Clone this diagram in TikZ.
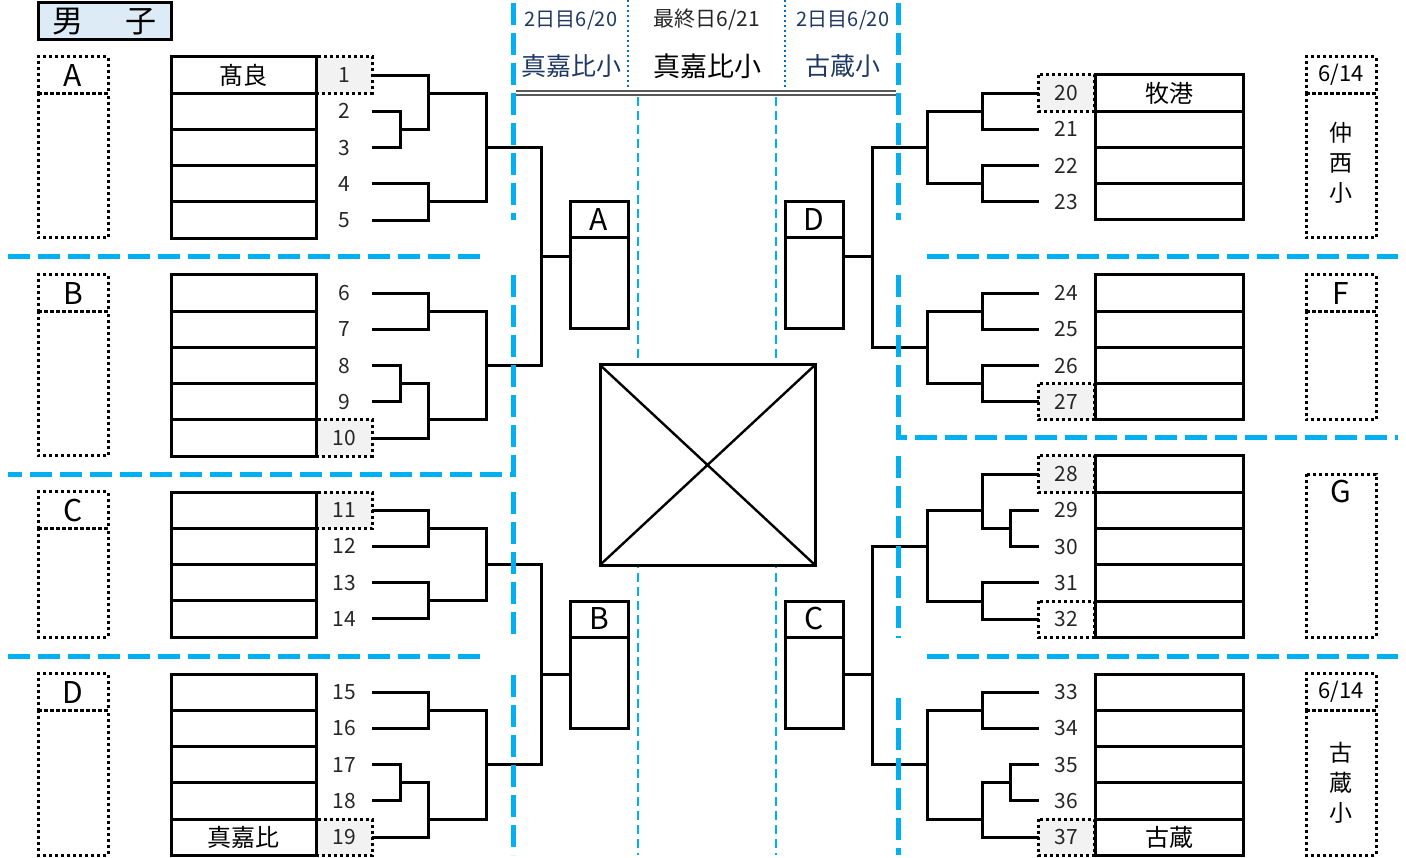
\documentclass[tikz,border=0pt]{standalone}
\usepackage{fontspec}
\setmainfont{Noto Sans CJK JP}
\usetikzlibrary{backgrounds}

\definecolor{cutblue}{HTML}{00B0F0}
\definecolor{daynavy}{HTML}{1F3864}
\definecolor{dotnavy}{HTML}{0070C0}
\definecolor{seedgray}{HTML}{F2F2F2}
\definecolor{titlebg}{HTML}{DDEBF7}
\definecolor{numgray}{HTML}{262626}
\definecolor{rulegray}{HTML}{595959}

\tikzset{
  bline/.style={line width=3pt},
  dotbox/.style={line width=3pt, dash pattern=on 3pt off 3pt},
  cutline/.style={cutblue, line width=5pt, dash pattern=on 22pt off 8pt},
  dayline/.style={cutblue, line width=2pt, dash pattern=on 9pt off 5pt},
  venueline/.style={dotnavy, line width=2.5pt, dash pattern=on 2.5pt off 2.5pt},
  num/.style={minimum width=56pt, minimum height=36.25pt, inner sep=0pt, outer sep=0pt,
    text=numgray, font=\fontsize{21}{21}\selectfont},
  team/.style={inner sep=0pt, font=\fontsize{24}{24}\selectfont},
  grp/.style={draw, dotbox, minimum width=70pt, minimum height=36.25pt, inner sep=0pt,
    outer sep=0pt, font=\fontsize{30}{30}\selectfont},
  vtext/.style={align=center, inner sep=0pt, font=\fontsize{23}{30}\selectfont},
  sbox/.style={draw, bline, minimum width=58pt, minimum height=127pt, inner sep=0pt, outer sep=0pt},
  sletter/.style={inner sep=0pt, font=\fontsize{30}{30}\selectfont},
  dayhd/.style={inner sep=0pt, text=daynavy, font=\fontsize{20}{20}\selectfont},
  venuehd/.style={inner sep=0pt, text=daynavy, font=\fontsize{25}{25}\selectfont}
}

\begin{document}
\begin{tikzpicture}[x=1pt, y=-1pt]
\useasboundingbox (0,0) rectangle (1406,858);

% title
\node[draw, bline, fill=titlebg, minimum width=133pt, minimum height=37pt, inner sep=0pt,
  font=\fontsize{31}{31}\selectfont] (title) at (104.5,21.5) {男\hspace{42pt}子};

% header of the finals
\node[dayhd] (day1) at (571,20) {2日目6/20};
\node[dayhd, text=numgray, font=\fontsize{21}{21}\selectfont] (day2) at (707,20) {最終日6/21};
\node[dayhd] (day3) at (843,20) {2日目6/20};
\node[venuehd] (ven1) at (571,66) {真嘉比小};
\node[venuehd, text=black, font=\fontsize{27}{27}\selectfont] (ven2) at (707,66) {真嘉比小};
\node[venuehd] (ven3) at (843,66) {古蔵小};
\draw[venueline] (628,0) -- (628,88);
\draw[venueline] (785,0) -- (785,88);
\draw[rulegray, line width=2pt] (516,91) -- (896,91) (516,95) -- (896,95);
\draw[dayline] (638,97) -- (638,855);
\draw[dayline] (776,97) -- (776,855);

% left tables and seeds
\foreach \t/\k/\f in {57/5/1,275/5/6,492/4/11,674/5/15}{
  \foreach \i in {1,...,\k}{
    \pgfmathtruncatemacro{\n}{\f+\i-1}
    \draw[bline] (171,{\t+(\i-1)*36.25}) rectangle (316,{\t+\i*36.25});
    \node[num] (n\n) at (344,{\t+(\i-0.5)*36.25}) {\n};
  }
}
% right tables and seeds
\foreach \t/\k/\f in {75/4/20,275/4/24,456/5/28,674/5/33}{
  \foreach \i in {1,...,\k}{
    \pgfmathtruncatemacro{\n}{\f+\i-1}
    \draw[bline] (1095,{\t+(\i-1)*36.25}) rectangle (1243,{\t+\i*36.25});
    \node[num] (n\n) at (1066.5,{\t+(\i-0.5)*36.25}) {\n};
  }
}
\begin{scope}[on background layer]
  \foreach \s in {1,10,11,19,20,27,28,37}
    \fill[seedgray] (n\s.north west) rectangle (n\s.south east);
\end{scope}
\foreach \s in {1,10,11,19,20,27,28,32,37}
  \draw[dotbox] (n\s.north west) rectangle (n\s.south east);

% teams
\node[team] (tm1) at (243.5,75.1) {髙良};
\node[team] (tm19) at (243.5,837.1) {真嘉比};
\node[team] (tm20) at (1169,93.1) {牧港};
\node[team] (tm37) at (1169,837.1) {古蔵};

% block labels
\foreach \t/\b/\l in {57/238/A,275/456/B,492/637/C,674/855/D}{
  \node[grp] (g\l) at (73,{\t+18.1}) {\l};
  \draw[dotbox] (g\l.south west) rectangle (108,\b);
}
\node[grp, font=\fontsize{22}{22}\selectfont] (gE) at (1341,75.1) {6/14};
\draw[dotbox] (gE.south west) rectangle (1376,238);
\node[vtext] (siteE) at (1341,163) {仲\\西\\小};
\node[grp] (gF) at (1341,293.1) {F};
\draw[dotbox] (gF.south west) rectangle (1376,420);
\draw[dotbox] (1306,474) rectangle (1376,637);
\node[sletter] (gG) at (1341,492) {G};
\node[grp, font=\fontsize{22}{22}\selectfont] (gH) at (1341,692.1) {6/14};
\draw[dotbox] (gH.south west) rectangle (1376,855);
\node[vtext] (siteH) at (1341,783) {古\\蔵\\小};

% junctions
\coordinate (a23) at (400,129.5);   \coordinate (a123) at (428,93.25);
\coordinate (a45) at (428,202);     \coordinate (aout) at (486,147.6);
\coordinate (b67) at (428,311.25);  \coordinate (b89) at (400,383.75);
\coordinate (b810) at (428,420);    \coordinate (bout) at (486,365.6);
\coordinate (c1112) at (428,528.25); \coordinate (c1314) at (428,600.75);
\coordinate (cout) at (486,564.5);
\coordinate (d1516) at (428,710.25); \coordinate (d1718) at (400,782.75);
\coordinate (d1719) at (428,819);   \coordinate (dout) at (486,764.6);
\coordinate (oA) at (541,147.6); \coordinate (oB) at (541,365.6); \coordinate (qAB) at (541,257);
\coordinate (oC) at (541,564.5); \coordinate (oD) at (541,764.6); \coordinate (qCD) at (541,674);
\coordinate (e2021) at (982,111.25); \coordinate (e2223) at (982,183.75);
\coordinate (eout) at (927,147.5);
\coordinate (f2425) at (982,311.25); \coordinate (f2627) at (982,383.75);
\coordinate (fout) at (927,347.5);
\coordinate (g2930) at (1010,528.5); \coordinate (g2830) at (982,510.4);
\coordinate (g3132) at (982,601);    \coordinate (gout) at (927,546.6);
\coordinate (h3334) at (982,710.25); \coordinate (h3536) at (1010,782.75);
\coordinate (h3537) at (982,819);    \coordinate (hout) at (927,764.6);
\coordinate (oE) at (872,147.5); \coordinate (oF) at (872,347.5); \coordinate (qEF) at (872,257);
\coordinate (oG) at (872,546.6); \coordinate (oH) at (872,764.6); \coordinate (qGH) at (872,674);

% left brackets
\draw[bline] (n2.east) -| (a23) |- (n3.east);
\draw[bline] (n1.east) -| (a123) |- (a23);
\draw[bline] (n4.east) -| (a45) |- (n5.east);
\draw[bline] (a123) -| (aout) |- (a45);
\draw[bline] (n6.east) -| (b67) |- (n7.east);
\draw[bline] (n8.east) -| (b89) |- (n9.east);
\draw[bline] (b89) -| (b810) |- (n10.east);
\draw[bline] (b67) -| (bout) |- (b810);
\draw[bline] (n11.east) -| (c1112) |- (n12.east);
\draw[bline] (n13.east) -| (c1314) |- (n14.east);
\draw[bline] (c1112) -| (cout) |- (c1314);
\draw[bline] (n15.east) -| (d1516) |- (n16.east);
\draw[bline] (n17.east) -| (d1718) |- (n18.east);
\draw[bline] (d1718) -| (d1719) |- (n19.east);
\draw[bline] (d1516) -| (dout) |- (d1719);

% right brackets
\draw[bline] (n20.west) -| (e2021) |- (n21.west);
\draw[bline] (n22.west) -| (e2223) |- (n23.west);
\draw[bline] (e2021) -| (eout) |- (e2223);
\draw[bline] (n24.west) -| (f2425) |- (n25.west);
\draw[bline] (n26.west) -| (f2627) |- (n27.west);
\draw[bline] (f2425) -| (fout) |- (f2627);
\draw[bline] (n29.west) -| (g2930) |- (n30.west);
\draw[bline] (n28.west) -| (g2830) |- (g2930);
\draw[bline] (n31.west) -| (g3132) |- (n32.west);
\draw[bline] (g2830) -| (gout) |- (g3132);
\draw[bline] (n33.west) -| (h3334) |- (n34.west);
\draw[bline] (n35.west) -| (h3536) |- (n36.west);
\draw[bline] (h3536) -| (h3537) |- (n37.west);
\draw[bline] (h3334) -| (hout) |- (h3537);

% semi-final boxes
\node[sbox] (bA) at (599,265.5) {};
\node[sbox] (bB) at (599,664.5) {};
\node[sbox] (bD) at (814,265.5) {};
\node[sbox] (bC) at (814,664.5) {};
\foreach \b in {A,B,C,D}{
  \draw[bline] (b\b.north west) ++(0,36) -- ++(58,0);
  \node[sletter] (l\b) at ([yshift=-18pt]b\b.north) {\b};
}

% to the semi-finals
\draw[bline] (aout) -- (oA) -- (oB) -- (bout);
\draw[bline] (qAB) -- (qAB -| bA.west);
\draw[bline] (cout) -- (oC) -- (oD) -- (dout);
\draw[bline] (qCD) -- (qCD -| bB.west);
\draw[bline] (eout) -- (oE) -- (oF) -- (fout);
\draw[bline] (qEF) -- (qEF -| bD.east);
\draw[bline] (gout) -- (oG) -- (oH) -- (hout);
\draw[bline] (qGH) -- (qGH -| bC.east);

% final
\node[draw, bline, fill=white, minimum width=215pt, minimum height=200pt, inner sep=0pt,
  outer sep=0pt] (final) at (707.5,465) {};
\draw[line width=2.4pt] (final.north west) -- (final.south east)
  (final.north east) -- (final.south west);

% block borders
\draw[cutline] (513,3) -- (513,220);
\draw[cutline] (513,275) -- (513,474) -- (8,474);
\draw[cutline] (513,492) -- (513,638);
\draw[cutline] (513,675) -- (513,855);
\draw[cutline] (8,257) -- (485,257);
\draw[cutline] (8,656) -- (485,656);
\draw[cutline] (898,3) -- (898,220);
\draw[cutline] (898,275) -- (898,438) -- (1398,438);
\draw[cutline] (898,456) -- (898,638);
\draw[cutline] (898,698) -- (898,855);
\draw[cutline] (927,257) -- (1398,257);
\draw[cutline] (927,656) -- (1398,656);
\end{tikzpicture}
\end{document}
